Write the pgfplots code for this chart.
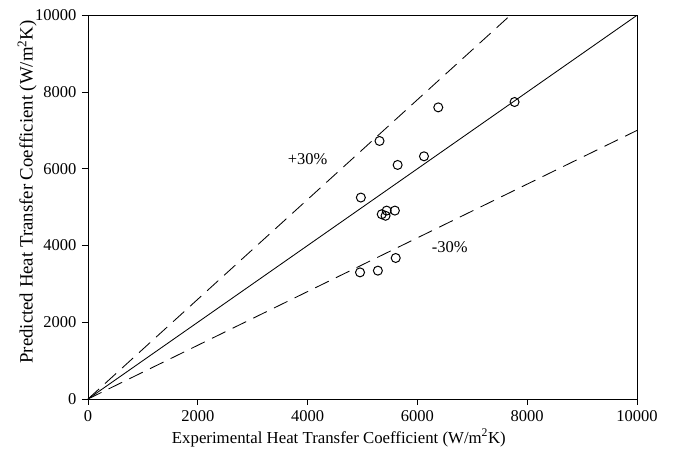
\documentclass[border=0pt]{standalone}
\usepackage{fontspec}
\setmainfont{Liberation Serif}
\usepackage{pgfplots}
\pgfplotsset{compat=1.18}
\begin{document}
\fontsize{16.5}{19.5}\selectfont
\begin{tikzpicture}
% page frame around the axis box
\path[use as bounding box] (-88pt,-55pt) rectangle (587pt,399pt);
\begin{axis}[
  at={(0,0)}, anchor=south west,
  scale only axis, width=549pt, height=383.7pt,
  xmin=0, xmax=10000, ymin=0, ymax=10000,
  xtick={0,2000,...,10000}, ytick={0,2000,...,10000},
  tick pos=left, tick align=outside,
  major tick length=6pt,
  every tick/.style={black, line width=0.9pt},
  axis line style={line width=0.9pt},
  scaled ticks=false,
  /pgf/number format/.cd, 1000 sep={}, assume math mode=true,
  /pgfplots/.cd,
  tick label style={font=\fontsize{16.5}{19.5}\selectfont},
  xlabel style={font=\fontsize{16.8}{20}\selectfont,
    at={(axis description cs:0.457,-0.1016)}, anchor=center},
  ylabel style={font=\fontsize{18.8}{22}\selectfont,
    at={(axis description cs:-0.111,0.5395)}, anchor=center},
  xlabel={Experimental Heat Transfer Coefficient (W/m\textsuperscript{2}K)},
  ylabel={Predicted Heat Transfer Coefficient (W/m\textsuperscript{2}K)},
  clip=true,
]
% perfect agreement and +/-30% bands
\addplot[black, line width=0.85pt] coordinates {(0,0) (10000,10000)};
\addplot[black, line width=0.85pt, dash pattern=on 15pt off 8pt] coordinates {(0,0) (10000,13000)};
\addplot[black, line width=0.85pt, dash pattern=on 15pt off 8pt] coordinates {(0,0) (10000,7000)};
% measured vs predicted
\addplot[only marks, mark=o, mark size=4.5pt, mark options={line width=1pt, black}] coordinates {
  (6380,7600) (7770,7740) (5310,6725) (5640,6100) (6120,6325) (4970,5250)
  (5350,4815) (5420,4775) (5440,4910) (5590,4910)
  (4955,3300) (5280,3345) (5605,3675)
};
\node at (axis cs:4000,6250) {+30\%};
\node at (axis cs:6590,3950) {-30\%};
\end{axis}
\end{tikzpicture}
\end{document}
